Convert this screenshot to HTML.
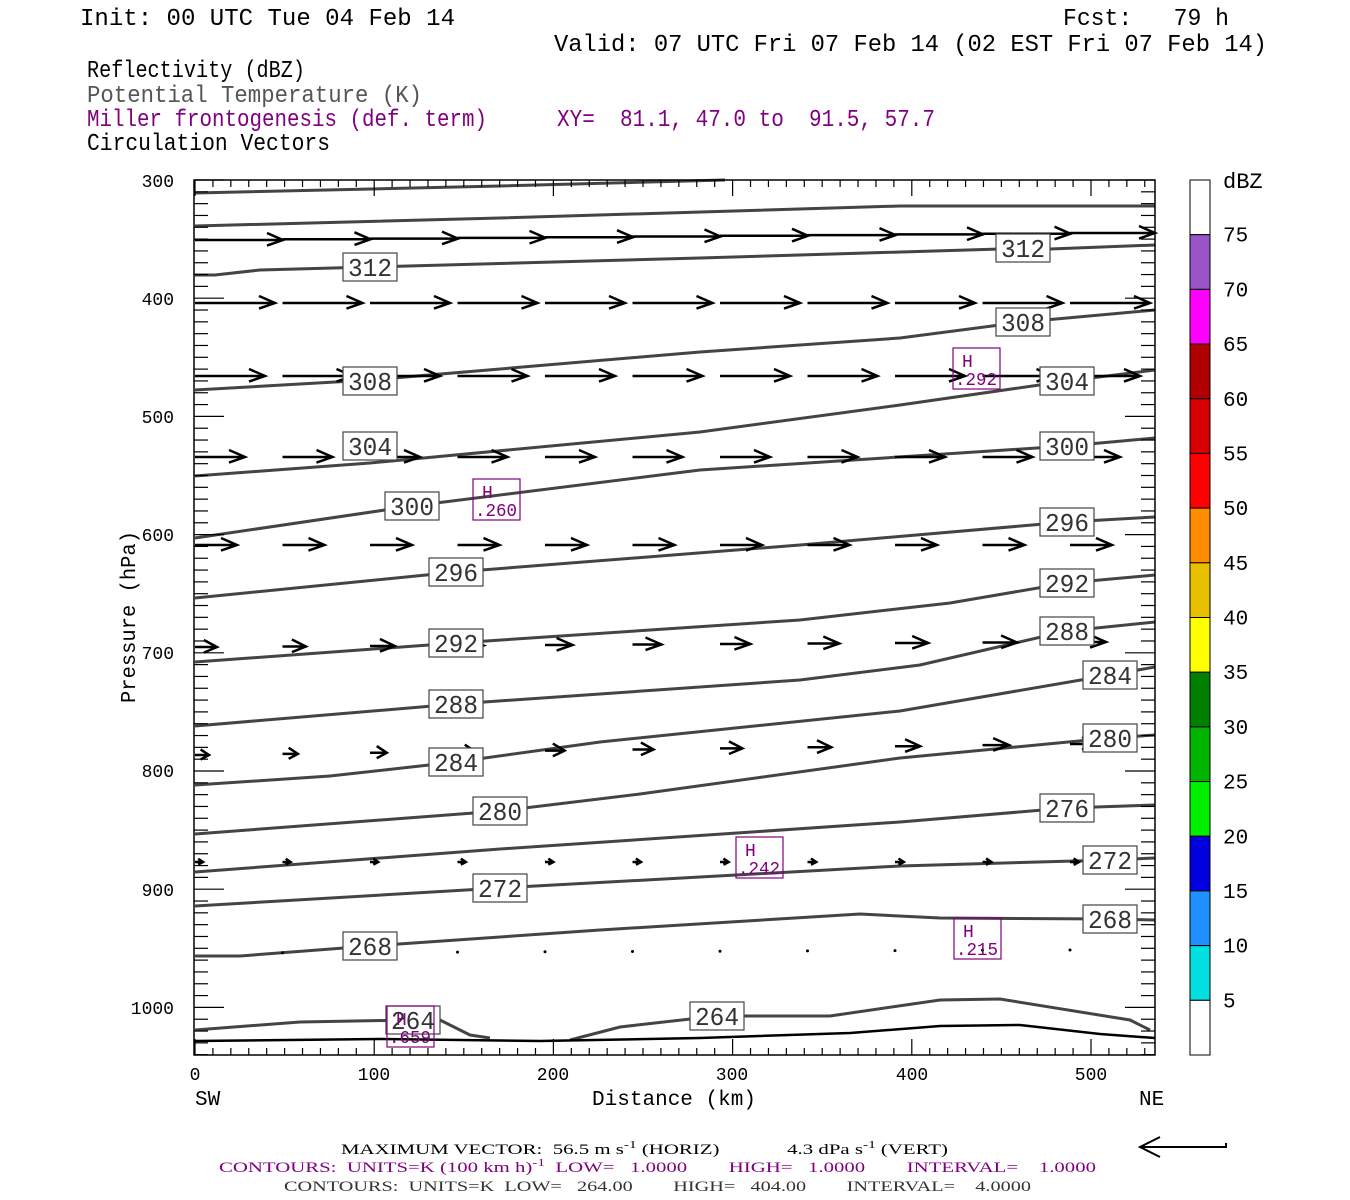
<!DOCTYPE html>
<html><head><meta charset="utf-8"><style>
html,body{margin:0;padding:0;background:#fff;}
svg{display:block;}
text{font-family:"Liberation Mono",monospace;white-space:pre;}
.sf{font-family:"Liberation Serif",serif;}
</style></head><body>
<svg id="s" width="1350" height="1200" xmlns="http://www.w3.org/2000/svg" xml:space="preserve">
<rect width="1350" height="1200" fill="#fff"/>
<g font-size="24">
<text x="80" y="25" textLength="375" lengthAdjust="spacingAndGlyphs">Init: 00 UTC Tue 04 Feb 14</text>
<text x="1063" y="25" textLength="166" lengthAdjust="spacingAndGlyphs">Fcst:   79 h</text>
<text x="554" y="51" textLength="713" lengthAdjust="spacingAndGlyphs">Valid: 07 UTC Fri 07 Feb 14 (02 EST Fri 07 Feb 14)</text>
<text x="87" y="77" textLength="218" lengthAdjust="spacingAndGlyphs">Reflectivity (dBZ)</text>
<text x="87" y="102" fill="#555" textLength="335" lengthAdjust="spacingAndGlyphs">Potential Temperature (K)</text>
<text x="87" y="126" fill="#800080" textLength="400" lengthAdjust="spacingAndGlyphs">Miller frontogenesis (def. term)</text>
<text x="557" y="126" fill="#800080" textLength="378" lengthAdjust="spacingAndGlyphs">XY=  81.1, 47.0 to  91.5, 57.7</text>
<text x="87" y="150" textLength="243" lengthAdjust="spacingAndGlyphs">Circulation Vectors</text>
</g>
<g id="cont" fill="none" stroke="#444" stroke-width="3"></g>
<g id="vec" fill="none" stroke="#000" stroke-width="2.5"></g>
<g id="lab"></g>
<g id="ax"></g>
<rect x="194" y="180" width="961" height="875" fill="none" stroke="#000" stroke-width="1.5"/>
<g font-size="18">
<text x="174" y="187" text-anchor="end">300</text>
<text x="174" y="305" text-anchor="end">400</text>
<text x="174" y="423" text-anchor="end">500</text>
<text x="174" y="541" text-anchor="end">600</text>
<text x="174" y="659" text-anchor="end">700</text>
<text x="174" y="777" text-anchor="end">800</text>
<text x="174" y="896" text-anchor="end">900</text>
<text x="174" y="1014" text-anchor="end">1000</text>
<text x="195" y="1080" text-anchor="middle">0</text>
<text x="374" y="1080" text-anchor="middle">100</text>
<text x="553" y="1080" text-anchor="middle">200</text>
<text x="732" y="1080" text-anchor="middle">300</text>
<text x="912" y="1080" text-anchor="middle">400</text>
<text x="1091" y="1080" text-anchor="middle">500</text>
</g>
<g font-size="21">
<text x="195" y="1105">SW</text>
<text x="1139" y="1105">NE</text>
<text x="674" y="1105" text-anchor="middle" textLength="164" lengthAdjust="spacingAndGlyphs">Distance (km)</text>
<text transform="translate(135,617) rotate(-90)" text-anchor="middle" textLength="172" lengthAdjust="spacingAndGlyphs">Pressure (hPa)</text>
</g>
<g id="cb"></g>
<g font-size="15" class="sf">
<text class="sf" x="341" y="1154" textLength="607" lengthAdjust="spacingAndGlyphs">MAXIMUM VECTOR:  56.5 m s<tspan dy="-6" font-size="11">-1</tspan><tspan dy="6"> (HORIZ)             4.3 dPa s</tspan><tspan dy="-6" font-size="11">-1</tspan><tspan dy="6"> (VERT)</tspan></text>
<text class="sf" x="219" y="1172" fill="#800080" textLength="877" lengthAdjust="spacingAndGlyphs">CONTOURS:  UNITS=K (100 km h)<tspan dy="-6" font-size="11">-1</tspan><tspan dy="6">  LOW=   1.0000        HIGH=   1.0000        INTERVAL=    1.0000</tspan></text>
<text class="sf" x="284" y="1191" fill="#333" textLength="747" lengthAdjust="spacingAndGlyphs">CONTOURS:  UNITS=K  LOW=   264.00        HIGH=   404.00        INTERVAL=    4.0000</text>
</g>
<path d="M1227,1147 L1140,1147 M1160,1137 L1140,1147 L1160,1157 M1226,1143 L1226,1147" stroke="#000" stroke-width="2" fill="none"/>
</svg>
<script>
const NS="http://www.w3.org/2000/svg";
function el(p,t,a,txt){const e=document.createElementNS(NS,t);for(const k in a)e.setAttribute(k,a[k]);if(txt!==undefined)e.textContent=txt;document.getElementById(p).appendChild(e);return e;}
const C=[
"195,193 500,186 725,180",
"195,226 500,218 900,206 1050,206 1155,206",
"195,275 215,275 260,270 370,267 700,258 1000,249 1050,249 1155,245",
"195,390 370,380 700,352 900,338 1023,322 1155,310",
"195,476 370,463 700,432 900,405 1067,381 1155,370",
"195,538 412,506 700,470 1067,446 1155,438",
"195,598 456,572 800,545 1067,522 1155,517",
"195,662 456,643 800,620 950,603 1067,583 1155,575",
"195,726 456,704 800,680 920,665 1067,631 1155,622",
"195,785 330,776 456,762 600,742 900,711 1110,675 1155,667",
"195,834 500,811 640,794 900,758 1110,738 1155,735",
"195,872 500,849 900,822 1067,808 1155,805",
"195,906 500,888 900,866 1110,860 1155,858",
"195,956 240,956 370,946 600,930 860,914 940,918 1110,919 1155,920",
];
C.forEach(p=>el("cont","polyline",{points:p}));
el("cont","polyline",{points:"195,1030 300,1022 413,1020 440,1020 470,1035 490,1038"});
el("cont","polyline",{points:"570,1040 620,1027 717,1016 830,1016 940,1000 1000,999 1130,1020 1150,1030"});
el("cont","polyline",{points:"195,1041 380,1039 540,1041 700,1038 850,1033 940,1026 1020,1025 1100,1034 1155,1038",stroke:"#000","stroke-width":"2.5"});
const rows=[[240,88,0],[303,80,0],[376,70,0],[457,50,0],[545,42,0],[647,22,14],[755,14,14],[862,8,1]];
rows.forEach(([y,L,g],ri)=>{for(let i=0;i<11;i++){const x=195+i*87.5;const l=L+g*i/10;const dy=(ri==0?-i*0.7:ri==6?-i*1.1:ri==5?-i*0.5:0);
const x2=Math.min(x+l,1155);const h=Math.min(16,l*0.6),w=Math.min(7,l*0.4);el("vec","path",{d:`M${x},${y+dy} L${x2},${y+dy} M${x2-h},${y+dy-w} L${x2},${y+dy} L${x2-h},${y+dy+w*0.8}`});}});
for(let i=1;i<11;i++){el("vec","circle",{cx:195+i*87.5,cy:953-i*0.3,r:1.5,fill:"#000",stroke:"none"});}
const L=[[370,267,"312"],[1023,248,"312"],[1023,322,"308"],[370,381,"308"],[1067,381,"304"],[370,446,"304"],[1067,446,"300"],[412,506,"300"],[456,572,"296"],[1067,522,"296"],[456,643,"292"],[1067,583,"292"],[456,704,"288"],[1067,631,"288"],[456,762,"284"],[1110,675,"284"],[500,811,"280"],[1110,738,"280"],[1067,808,"276"],[500,888,"272"],[1110,860,"272"],[370,946,"268"],[1110,919,"268"],[413,1020,"264"],[717,1016,"264"]];
L.forEach(([x,y,t])=>{el("lab","rect",{x:x-27,y:y-14,width:54,height:28,fill:"#fff",stroke:"#444","stroke-width":1.2});el("lab","text",{x:x,y:y+9,"text-anchor":"middle","font-size":"26",fill:"#333",textLength:"44",lengthAdjust:"spacingAndGlyphs"},t);});
const H=[[953,348,".292"],[473,479,".260"],[736,837,".242"],[954,918,".215"],[387,1006,".659"]];
H.forEach(([x,y,t])=>{el("lab","rect",{x:x,y:y,width:47,height:41,fill:"none",stroke:"#800080","stroke-width":1.2});el("lab","text",{x:x+9,y:y+19,"font-size":"18",fill:"#800080"},"H");el("lab","text",{x:x+2,y:y+37,"font-size":"18",fill:"#800080",textLength:"42",lengthAdjust:"spacingAndGlyphs"},t);});
for(let p=300;p<=1040;p+=10){const y=180+(p-300)*1.182;const l=(p%100==0)?30:14;el("ax","line",{x1:194,y1:y,x2:194+l,y2:y,stroke:"#000","stroke-width":1.2});el("ax","line",{x1:1155,y1:y,x2:1155-l,y2:y,stroke:"#000","stroke-width":1.2});}
for(let k=0;k<=535;k+=10){const x=195+k*1.792;const l=(k%100==0)?16:7;el("ax","line",{x1:x,y1:1055,x2:x,y2:1055-l,stroke:"#000","stroke-width":1.2});el("ax","line",{x1:x,y1:180,x2:x,y2:180+l,stroke:"#000","stroke-width":1.2});}
const cols=["#fff","#9955c8","#ff00ff","#b00000","#d80000","#ff0000","#ff8c00","#e8c000","#ffff00","#008000","#00b400","#00f000","#0000e0","#1e90ff","#00e0e0","#fff"];
const segH=875/16;
cols.forEach((c,i)=>el("cb","rect",{x:1190,y:180+i*segH,width:20,height:segH,fill:c,stroke:"#000","stroke-width":1}));
el("cb","text",{x:1223,y:188,"font-size":"22"},"dBZ");
for(let i=1;i<=15;i++){el("cb","text",{x:1223,y:180+i*segH+7,"font-size":"21"},String(80-i*5));}
</script>
</body></html>
